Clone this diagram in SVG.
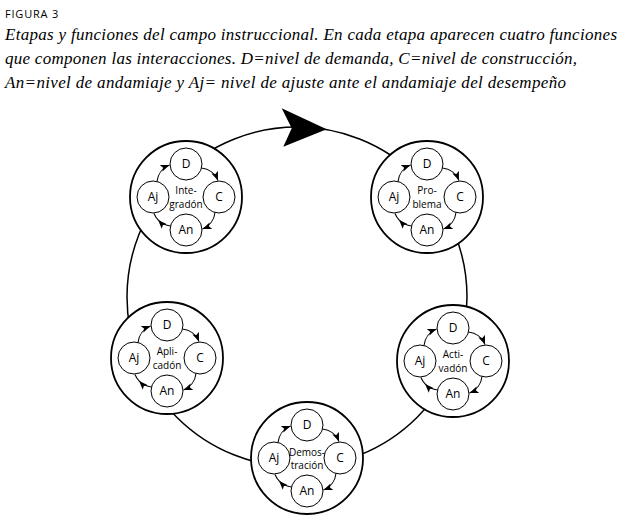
<svg xmlns="http://www.w3.org/2000/svg" width="622" height="518" viewBox="0 0 622 518">
<style>
.bg{fill:#fff}
.outer{fill:#fff;stroke:#000;stroke-width:1.8}
.inner{fill:#fff;stroke:#000;stroke-width:1}
.arc{fill:none;stroke:#000;stroke-width:1.1;marker-end:url(#ah)}
.arcm{fill:none;stroke:#000;stroke-width:1.1;marker-mid:url(#ah)}
.big{fill:none;stroke:#000;stroke-width:1.5}
.lt{font-family:"Open Sans","DejaVu Sans",sans-serif;font-size:12px;text-anchor:middle;fill:#000}
.ct{font-family:"Open Sans","DejaVu Sans",sans-serif;font-size:10px;text-anchor:middle;fill:#000}
.cap{font-family:"Liberation Serif","DejaVu Serif",serif;font-style:italic;font-size:17px;fill:#000}
.fig{font-family:"Open Sans","DejaVu Sans",sans-serif;font-size:11px;letter-spacing:0.8px;fill:#000}
</style>
<defs>
<marker id="ah" markerWidth="9" markerHeight="7" refX="9" refY="3.5" orient="auto" markerUnits="userSpaceOnUse">
<path d="M0,0 L9,3.5 L0,7 L2,3.5 Z" fill="#000"/>
</marker>
</defs>
<rect class="bg" x="0" y="0" width="622" height="518"/>
<text class="fig" x="5" y="18">FIGURA 3</text>
<text class="cap" x="5" y="40" textLength="612" lengthAdjust="spacing">Etapas y funciones del campo instruccional. En cada etapa aparecen cuatro funciones</text>
<text class="cap" x="5" y="64" textLength="572" lengthAdjust="spacing">que componen las interacciones. D=nivel de demanda, C=nivel de construcción,</text>
<text class="cap" x="5" y="88" textLength="561" lengthAdjust="spacing">An=nivel de andamiaje y Aj= nivel de ajuste ante el andamiaje del desempeño</text>
<g id="connectors">
<circle class="big" cx="297" cy="297" r="170"/>
<path d="M281.7,108.3 L326.7,129.3 L283.3,146.7 L291.7,128.3 Z" fill="#000"/>
</g>
<g id="integracion" transform="translate(186,197)">
<circle class="outer" r="56"/>
<circle class="inner" cx="0" cy="-33" r="16"/><circle class="inner" cx="33" cy="0" r="16"/><circle class="inner" cx="0" cy="33" r="16"/><circle class="inner" cx="-33" cy="0" r="16"/>
<path class="arc" d="M15.5,-29 A20,20 0 0 1 32,-16.5"/><path class="arc" d="M29,15.5 A20,20 0 0 1 16.5,32"/><path class="arcm" d="M-15.5,29 A20,20 0 0 1 -27.93,22.89 A20,20 0 0 1 -32,16.5"/><path class="arc" d="M-29,-15.5 A20,20 0 0 1 -16.5,-32"/>
<text class="lt" x="0" y="-29">D</text><text class="lt" x="33" y="4">C</text><text class="lt" x="0" y="37">An</text><text class="lt" x="-33" y="4">Aj</text>
<text class="ct" x="0" y="-3">Inte-</text><text class="ct" x="0" y="10.5">gradón</text>
</g>
<g id="problema" transform="translate(427,197)">
<circle class="outer" r="56"/>
<circle class="inner" cx="0" cy="-33" r="16"/><circle class="inner" cx="33" cy="0" r="16"/><circle class="inner" cx="0" cy="33" r="16"/><circle class="inner" cx="-33" cy="0" r="16"/>
<path class="arc" d="M15.5,-29 A20,20 0 0 1 32,-16.5"/><path class="arc" d="M29,15.5 A20,20 0 0 1 16.5,32"/><path class="arcm" d="M-15.5,29 A20,20 0 0 1 -27.93,22.89 A20,20 0 0 1 -32,16.5"/><path class="arc" d="M-29,-15.5 A20,20 0 0 1 -16.5,-32"/>
<text class="lt" x="0" y="-29">D</text><text class="lt" x="33" y="4">C</text><text class="lt" x="0" y="37">An</text><text class="lt" x="-33" y="4">Aj</text>
<text class="ct" x="0" y="-3">Pro-</text><text class="ct" x="0" y="10.5">blema</text>
</g>
<g id="aplicacion" transform="translate(167,358)">
<circle class="outer" r="56"/>
<circle class="inner" cx="0" cy="-33" r="16"/><circle class="inner" cx="33" cy="0" r="16"/><circle class="inner" cx="0" cy="33" r="16"/><circle class="inner" cx="-33" cy="0" r="16"/>
<path class="arc" d="M15.5,-29 A20,20 0 0 1 32,-16.5"/><path class="arc" d="M29,15.5 A20,20 0 0 1 16.5,32"/><path class="arcm" d="M-15.5,29 A20,20 0 0 1 -27.93,22.89 A20,20 0 0 1 -32,16.5"/><path class="arc" d="M-29,-15.5 A20,20 0 0 1 -16.5,-32"/>
<text class="lt" x="0" y="-29">D</text><text class="lt" x="33" y="4">C</text><text class="lt" x="0" y="37">An</text><text class="lt" x="-33" y="4">Aj</text>
<text class="ct" x="0" y="-3">Apli-</text><text class="ct" x="0" y="10.5">cadón</text>
</g>
<g id="activacion" transform="translate(453,361)">
<circle class="outer" r="56"/>
<circle class="inner" cx="0" cy="-33" r="16"/><circle class="inner" cx="33" cy="0" r="16"/><circle class="inner" cx="0" cy="33" r="16"/><circle class="inner" cx="-33" cy="0" r="16"/>
<path class="arc" d="M15.5,-29 A20,20 0 0 1 32,-16.5"/><path class="arc" d="M29,15.5 A20,20 0 0 1 16.5,32"/><path class="arcm" d="M-15.5,29 A20,20 0 0 1 -27.93,22.89 A20,20 0 0 1 -32,16.5"/><path class="arc" d="M-29,-15.5 A20,20 0 0 1 -16.5,-32"/>
<text class="lt" x="0" y="-29">D</text><text class="lt" x="33" y="4">C</text><text class="lt" x="0" y="37">An</text><text class="lt" x="-33" y="4">Aj</text>
<text class="ct" x="0" y="-3">Acti-</text><text class="ct" x="0" y="10.5">vadón</text>
</g>
<g id="demostracion" transform="translate(307,458)">
<circle class="outer" r="56"/>
<circle class="inner" cx="0" cy="-33" r="16"/><circle class="inner" cx="33" cy="0" r="16"/><circle class="inner" cx="0" cy="33" r="16"/><circle class="inner" cx="-33" cy="0" r="16"/>
<path class="arc" d="M15.5,-29 A20,20 0 0 1 32,-16.5"/><path class="arc" d="M29,15.5 A20,20 0 0 1 16.5,32"/><path class="arcm" d="M-15.5,29 A20,20 0 0 1 -27.93,22.89 A20,20 0 0 1 -32,16.5"/><path class="arc" d="M-29,-15.5 A20,20 0 0 1 -16.5,-32"/>
<text class="lt" x="0" y="-29">D</text><text class="lt" x="33" y="4">C</text><text class="lt" x="0" y="37">An</text><text class="lt" x="-33" y="4">Aj</text>
<text class="ct" x="0" y="-2">Demos-</text><text class="ct" x="0" y="11">tración</text>
</g>
</svg>
